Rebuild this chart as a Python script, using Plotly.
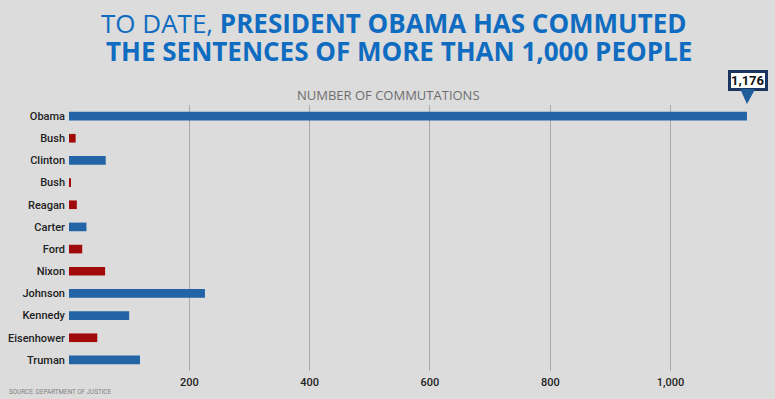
import plotly.graph_objects as go

presidents = ["Obama", "Bush", "Clinton", "Bush", "Reagan", "Carter", "Ford",
              "Nixon", "Johnson", "Kennedy", "Eisenhower", "Truman"]
parties = ["D", "R", "D", "R", "R", "D", "R", "R", "D", "D", "R", "D"]
commutations = [1127, 11, 61, 3, 13, 29, 22, 60, 226, 100, 47, 118]
obama_label = "1,176"
x_ticks = [200, 400, 600, 800, 1000]

BLUE = "#2264a5"
RED = "#a10a0b"
BG = "#dcdcdc"
colors = [BLUE if p == "D" else RED for p in parties]
ypos = list(range(len(presidents)))

# plot area in pixels
L, R, T, B = 69, 762, 105, 371
W, H = 775, 399


def px(X):
    return (X - L) / (R - L)


def py(Y):
    return (B - Y) / (B - T)


fig = go.Figure()
fig.add_trace(go.Bar(
    x=commutations, y=ypos, orientation="h",
    marker=dict(color=colors, line=dict(width=0)),
    width=0.39, hoverinfo="x",
))

fig.update_layout(
    width=W, height=H,
    paper_bgcolor=BG, plot_bgcolor=BG,
    margin=dict(l=L, r=W - R, t=T, b=H - B, autoexpand=False),
    showlegend=False,
    xaxis=dict(
        range=[0, 1152], tickvals=x_ticks, tickformat=",",
        showgrid=True, gridcolor="#a9a9a9", gridwidth=1,
        zeroline=False, showline=False, ticks="", automargin=False,
        tickfont=dict(family="Roboto", size=11, color="#222222", weight=500),
        ticklabelstandoff=3,
        fixedrange=True,
    ),
    yaxis=dict(
        range=[11.5, -0.5], tickvals=ypos, ticktext=presidents,
        showgrid=False, zeroline=False, showline=False, ticks="",
        automargin=False,
        tickfont=dict(family="Roboto", size=11, color="#222222", weight=500),
        ticklabelstandoff=3,
        fixedrange=True,
    ),
    font=dict(family="Roboto"),
)

title_font = dict(family="Open Sans", size=26, color="#0f6cc0")
fig.add_annotation(
    xref="paper", yref="paper", x=px(394), y=py(23), yanchor="middle",
    xanchor="center",
    text="TO DATE, <b>PRESIDENT OBAMA HAS COMMUTED</b>",
    showarrow=False, font=title_font,
)
fig.add_annotation(
    xref="paper", yref="paper", x=px(399), y=py(51), yanchor="middle",
    xanchor="center",
    text="<b>THE SENTENCES OF MORE THAN 1,000 PEOPLE</b>",
    showarrow=False, font=title_font,
)
fig.add_annotation(
    xref="paper", yref="paper", x=px(388), y=py(95), yanchor="middle",
    text="NUMBER OF COMMUTATIONS",
    showarrow=False, font=dict(family="Open Sans", size=13, color="#6e6e6e"),
)
fig.add_annotation(
    xref="x", yref="paper", x=commutations[0], y=py(104),
    text="<b>" + obama_label + "</b>",
    showarrow=True, ax=1, ay=-24, arrowhead=2, arrowsize=1, arrowwidth=3,
    arrowcolor="#1f5c9c",
    bgcolor="white", bordercolor="#1a3560", borderwidth=3, borderpad=0,
    font=dict(family="Roboto", size=13, color="#111111"),
)
fig.add_annotation(
    xref="paper", yref="paper", x=px(7), y=py(392), xanchor="left",
    yanchor="middle",
    text="SOURCE: DEPARTMENT OF JUSTICE",
    showarrow=False, font=dict(family="Roboto", size=6.3, color="#808080"),
)

fig.write_html(
    "out.html",
    config={"displayModeBar": False},
    post_script="document.body.style.margin='0';document.body.style.background='" + BG + "';",
)
